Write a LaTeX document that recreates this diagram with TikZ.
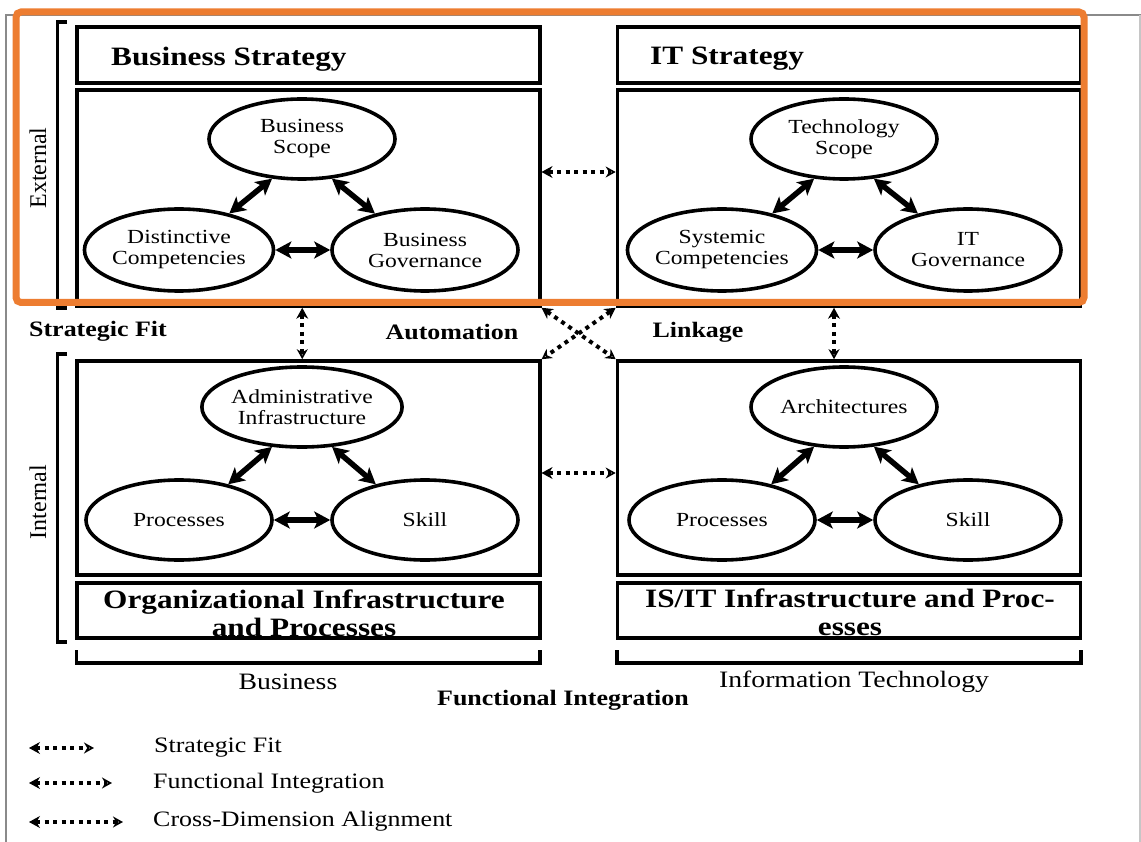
\documentclass[tikz,border=0pt]{standalone}
\usepackage{fontspec}
\setmainfont{Liberation Serif}[FakeStretch=1.18]
\newfontfamily\plainrm{Liberation Serif}
\usetikzlibrary{arrows.meta,shapes.geometric}
\definecolor{frameorange}{HTML}{ED7D31}
\definecolor{framegray}{HTML}{8A8A8A}
\tikzset{
  boxnode/.style={draw, line width=3.6pt, inner sep=0pt, minimum width=463pt},
  ell/.style={draw, ellipse, line width=3.6pt, inner sep=0pt, minimum width=186pt, minimum height=80pt, align=center, font=\fontsize{20}{21}\selectfont},
  duo/.style={line width=5.5pt, {Stealth[length=16pt,width=17pt,inset=4pt]}-{Stealth[length=16pt,width=17pt,inset=4pt]}},
  dots/.style={line width=4pt, dash pattern=on 4pt off 4.5pt, {Stealth[length=11pt,width=12pt,line width=1pt]}-{Stealth[open,length=10pt,width=11pt,line width=2.2pt]}},
  titletxt/.style={inner sep=0pt, font=\fontsize{26.5}{28}\selectfont\bfseries},
  lbl/.style={inner sep=0pt, font=\fontsize{22}{24}\selectfont\bfseries},
  sidetxt/.style={inner sep=0pt, rotate=90, font=\plainrm\fontsize{24}{26}\selectfont},
  axistxt/.style={inner sep=0pt, font=\fontsize{23.5}{25}\selectfont},
  legtxt/.style={inner sep=0pt, anchor=west, font=\fontsize{22}{24}\selectfont},
  brk/.style={line width=3.8pt},
}
\begin{document}
\begin{tikzpicture}[x=1pt,y=-1pt]
\useasboundingbox (0,0) rectangle (1141,842);
\fill[white] (0,0) rectangle (1141,842);
% page frame
\draw[framegray, line width=1.5pt] (6,842) -- (6,15) -- (1141,15);
\draw[gray!45, line width=2pt] (1140,15) -- (1140,842);

% boxes
\node[boxnode, minimum height=56pt] (bsbox) at (308.25,55) {};
\node[boxnode, minimum height=216pt] (tlin) at (308.25,198) {};
\node[boxnode, minimum height=56pt] (itbox) at (849,55) {};
\node[boxnode, minimum height=216pt] (trin) at (849,198) {};
\node[boxnode, minimum height=214pt] (blin) at (308.25,468) {};
\node[boxnode, minimum height=214pt] (brin) at (849,468) {};
\node[boxnode, minimum height=55pt] (oibox) at (308.25,610.5) {};
\node[boxnode, minimum height=55pt] (isbox) at (849,610.5) {};

% titles
\node[titletxt, anchor=west] (bst) at (111,59) {Business Strategy};
\node[titletxt, anchor=west] (itt) at (650,59) {IT Strategy};
\node[titletxt, align=center] (oit) at (304,613) {Organizational Infrastructure\\and Processes};
\node[titletxt, align=center] (ist) at (850,612) {IS/IT Infrastructure and Proc-\\esses};

% ellipses top-left
\node[ell] (bscope) at (302,139) {Business\\Scope};
\node[ell, minimum height=82pt] (dc) at (179,250) {Distinctive\\Competencies};
\node[ell, minimum height=82pt] (bg) at (425,250) {Business\\Governance};
% top-right
\node[ell] (tscope) at (844,139) {Technology\\Scope};
\node[ell, minimum height=82pt] (sc) at (722,250) {Systemic\\Competencies};
\node[ell, minimum height=82pt] (itg) at (968,250) {IT\\Governance};
% bottom-left
\node[ell] (adm) at (302,407) {Administrative\\Infrastructure};
\node[ell] (proc1) at (179,520) {Processes};
\node[ell] (skill1) at (425,520) {Skill};
% bottom-right
\node[ell] (arch) at (844,407) {Architectures};
\node[ell] (proc2) at (722,520) {Processes};
\node[ell] (skill2) at (968,520) {Skill};

% thick double arrows
\draw[duo] (bscope.233) -- (dc.36);
\draw[duo] (bscope.307) -- (bg.144);
\draw[duo] (dc.east) -- (bg.west);
\draw[duo] (tscope.233) -- (sc.36);
\draw[duo] (tscope.307) -- (itg.144);
\draw[duo] (sc.east) -- (itg.west);
\draw[duo] (adm.233) -- (proc1.36);
\draw[duo] (adm.307) -- (skill1.144);
\draw[duo] (proc1.east) -- (skill1.west);
\draw[duo] (arch.233) -- (proc2.36);
\draw[duo] (arch.307) -- (skill2.144);
\draw[duo] (proc2.east) -- (skill2.west);

% dotted alignment arrows
\draw[dots] ([yshift=26pt]tlin.east) -- ([yshift=26pt]trin.west);
\draw[dots] ([yshift=-5pt]blin.east) -- ([yshift=-5pt]brin.west);
\draw[dots] ([xshift=-6pt]tlin.south) -- ([xshift=-6pt]blin.north);
\draw[dots] ([xshift=-15pt]trin.south) -- ([xshift=-15pt]brin.north);
\draw[dots] (tlin.south east) -- (brin.north west);
\draw[dots] (trin.south west) -- (blin.north east);

% labels
\node[lbl] (sfit) at (98,331) {Strategic Fit};
\node[lbl] (auto) at (452,332) {Automation};
\node[lbl] (link) at (698,332) {Linkage};
\node[lbl] (fint) at (563,700) {Functional Integration};
\node[axistxt] (bus) at (288,682) {Business};
\node[axistxt] (inft) at (854,682) {Information Technology};
\node[sidetxt] (ext) at (38,168) {External};
\node[sidetxt] (intl) at (38,502) {Internal};

% brackets
\draw[brk] (67,22) -- (57.5,22) -- (57.5,308) -- (67,308);
\draw[brk] (67,354) -- (57.5,354) -- (57.5,642) -- (67,642);
\draw[brk] (76.5,650) -- (76.5,663) -- (540,663) -- (540,650);
\draw[brk] (617,650) -- (617,663) -- (1081,663) -- (1081,650);

% legend
\coordinate (l1a) at (29,748); \coordinate (l1b) at (94,748);
\coordinate (l2a) at (29,783); \coordinate (l2b) at (112,783);
\coordinate (l3a) at (29,822); \coordinate (l3b) at (123,822);
\draw[dots, line width=3.5pt] (l1a) -- (l1b);
\draw[dots, line width=3.5pt] (l2a) -- (l2b);
\draw[dots, line width=3.5pt] (l3a) -- (l3b);
\node[legtxt] (lt1) at (154,748) {Strategic Fit};
\node[legtxt] (lt2) at (153,783) {Functional Integration};
\node[legtxt] (lt3) at (153,821) {Cross-Dimension Alignment};

% orange highlight
\draw[frameorange, line width=7pt, rounded corners=5pt] (16,12) rectangle (1084,302.5);
\end{tikzpicture}
\end{document}
